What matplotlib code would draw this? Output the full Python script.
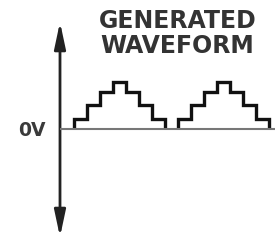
import numpy as np
import matplotlib
matplotlib.use("Agg")
import matplotlib.pyplot as plt
from matplotlib.patches import FancyArrowPatch

# staircase levels for one period (relative to peak)
step_levels = [0.21, 0.51, 0.79, 1.0, 0.79, 0.51, 0.21]
period_starts = [0, 8]          # in step units
title_lines = ["GENERATED", "WAVEFORM"]
zero_label = "0V"

fig = plt.figure(figsize=(2.75, 2.4), dpi=100)
ax = fig.add_axes([0, 0, 1, 1])
ax.set_xlim(-74 / 13, 201 / 13)
ax.set_ylim(-111 / 47, 129 / 47)
ax.axis("off")

x_axis = -14 / 13

# 0V baseline
ax.plot([x_axis, 201 / 13], [0, 0], color="#777777", lw=1.5, solid_capstyle="butt")

# vertical axis with arrows at both ends
arr = FancyArrowPatch((x_axis, -108 / 47), (x_axis, 107 / 47),
                      arrowstyle="<|-|>,head_length=16,head_width=3.4",
                      mutation_scale=1, shrinkA=0, shrinkB=0,
                      color="#222222", lw=2.0)
ax.add_patch(arr)

# generated staircase waveform
for s in period_starts:
    edges = np.arange(len(step_levels) + 1) + s
    ax.stairs(step_levels, edges, baseline=0, fill=False,
              color="#111111", lw=2.4)

fig.text(177.5 / 275, 1 - 33.75 / 240, "\n".join(title_lines),
         ha="center", va="center", fontsize=17, fontweight="bold",
         family="DejaVu Sans", color="#333333", linespacing=1.05)
fig.text(31.5 / 275, 1 - 130 / 240, zero_label, ha="center", va="center",
         fontsize=13.5, fontweight="bold", family="DejaVu Sans", color="#3a3a3a")

fig.savefig("out.png", dpi=100)
